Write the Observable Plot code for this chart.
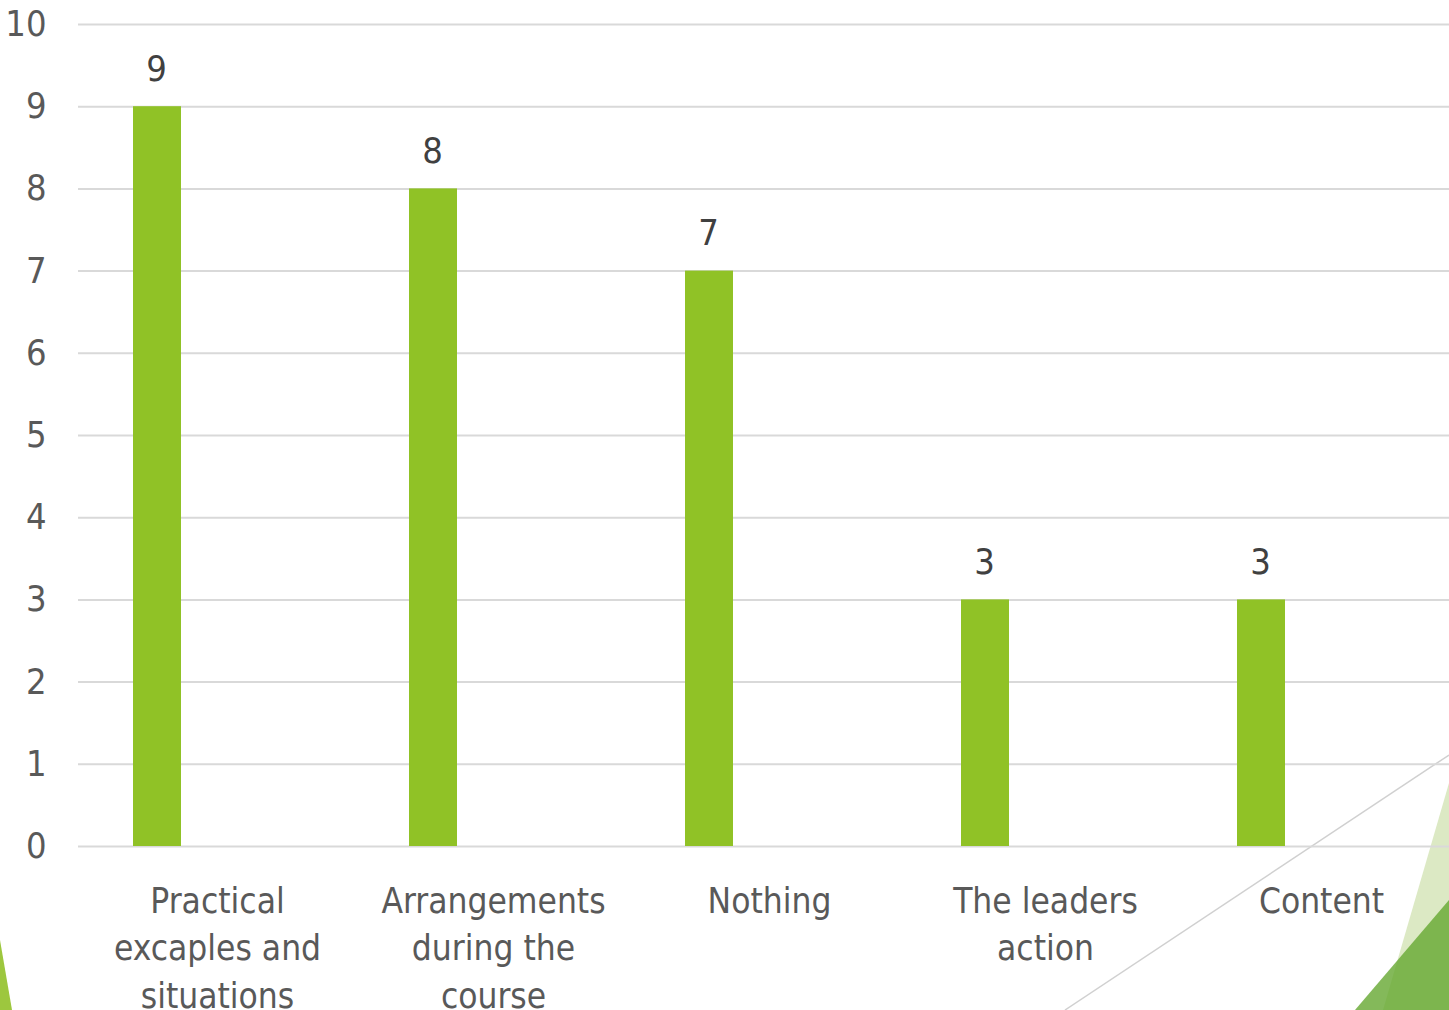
<!DOCTYPE html>
<html>
<head>
<meta charset="utf-8">
<script src="https://cdn.jsdelivr.net/npm/d3@7"></script>
<script src="https://cdn.jsdelivr.net/npm/@observablehq/plot@0.6"></script>
<style>
  html, body { margin: 0; padding: 0; background: #ffffff; overflow: hidden; width: 1449px; height: 1010px; }
  #wrap { position: relative; width: 1449px; height: 1010px; overflow: hidden; }
  #deco { position: absolute; left: 0; top: 0; z-index: 0; }
  #chart { position: absolute; left: 0; top: 0; z-index: 1; width: 1460px; }
  #chart svg { max-width: none !important; }
</style>
</head>
<body>
<div id="wrap">
  <svg id="deco" width="1449" height="1010" xmlns="http://www.w3.org/2000/svg">
    <line x1="1065" y1="1010" x2="1449" y2="755" stroke="#d0d0d0" stroke-width="1.5"/>
    <polygon points="1449,783 1383,1010 1449,1010" fill="#dce9c4"/>
    <polygon points="1449,900 1355,1010 1449,1010" fill="#65a731" fill-opacity="0.8"/>
    <polygon points="0,940 12,1010 0,1010" fill="#9dc73e"/>
  </svg>
  <div id="chart"></div>
</div>
<script>
const categories = [
  "Practical\nexcaples and\nsituations",
  "Arrangements\nduring the\ncourse",
  "Nothing",
  "The leaders\naction",
  "Content"
];
const values = [9, 8, 7, 3, 3];
const yTicks = [0, 1, 2, 3, 4, 5, 6, 7, 8, 9, 10];

const data = categories.map((c, i) => ({ cat: c, value: values[i] }));

const chart = Plot.plot({
  width: 1460,
  height: 1010,
  marginLeft: 78,
  marginRight: 0,
  marginTop: 24,
  marginBottom: 164,
  style: { fontFamily: "'DejaVu Sans Condensed', 'DejaVu Sans', sans-serif", background: "transparent", overflow: "visible", maxWidth: "none" },
  x: { domain: categories, padding: 0 },
  y: { domain: [0, 10] },
  marks: [
    Plot.gridY(yTicks, { stroke: "#d9d9d9", strokeOpacity: 1, strokeWidth: 2 }),
    Plot.barY(data, { x: "cat", y: "value", fill: "#90c226", insetLeft: 54, insetRight: 174 }),
    Plot.text(data, { x: "cat", y: "value", text: d => String(d.value), dx: -61, dy: -26, lineAnchor: "bottom", fontSize: 36, fill: "#404040" }),
    Plot.axisY(yTicks, { tickSize: 0, tickPadding: 32, fontSize: 36, fill: "#595959", label: null, tickFormat: d => String(d) }),
    Plot.axisX({ tickSize: 0, tickPadding: 32, fontSize: 35, fill: "#595959", lineHeight: 1.37, label: null })
  ]
});
chart.style.maxWidth = "none";
document.getElementById("chart").appendChild(chart);
</script>
</body>
</html>
